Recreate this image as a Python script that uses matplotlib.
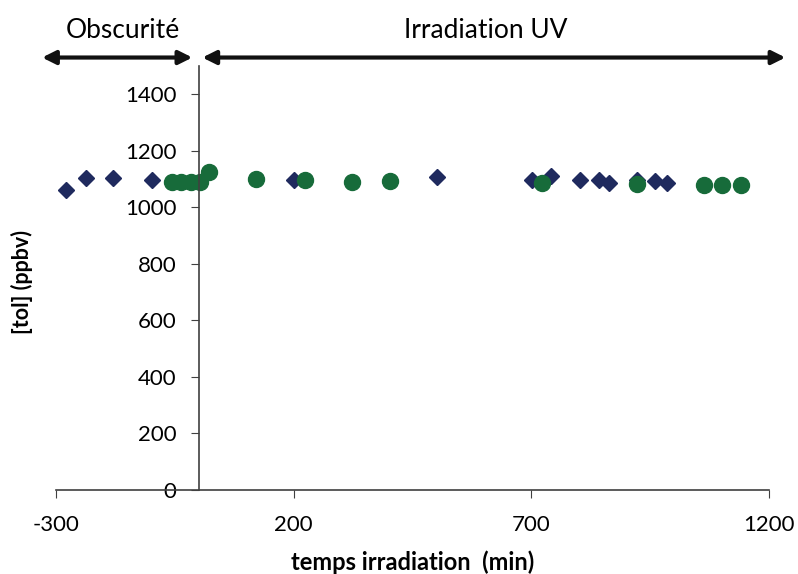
import matplotlib.pyplot as plt

plt.rcParams['font.family'] = ['Lato', 'DejaVu Sans']
plt.rcParams['axes.unicode_minus'] = False

# sombre + irradiation (losanges)
t_dia = [-278, -237, -179, -97, 0, 200, 501, 702, 742, 802, 841, 862, 922, 960, 984]
c_dia = [1060, 1105, 1105, 1098, 1090, 1098, 1106, 1096, 1112, 1096, 1097, 1086, 1095, 1092, 1086]

# cercles verts
t_circ = [-55, -36, -15, 4, 23, 121, 223, 322, 402, 722, 922, 1062, 1101, 1141]
c_circ = [1088, 1088, 1088, 1088, 1126, 1100, 1096, 1091, 1092, 1086, 1083, 1080, 1080, 1080]

xticks = [-300, 200, 700, 1200]
yticks = [0, 200, 400, 600, 800, 1000, 1200, 1400]

fig = plt.figure(figsize=(7.98, 5.74), dpi=100)
ax = fig.add_axes([0.070, 0.1463, 0.894, 0.7387])

ax.plot(t_dia, c_dia, 'D', color='#1f2a5e', markersize=8, linestyle='none')
ax.plot(t_circ, c_circ, 'o', color='#176b3a', markersize=11.5, linestyle='none')

ax.set_xlim(-300, 1200)
ax.set_ylim(0, 1500)
ax.set_xticks(xticks)
ax.set_yticks(yticks)
ax.tick_params(labelsize=16, length=6, color='#404040', direction='out')
ax.tick_params(axis='y', pad=10)
ax.tick_params(axis='x', pad=12)

ax.spines['left'].set_position(('data', 0))
ax.spines['top'].set_visible(False)
ax.spines['right'].set_visible(False)
for s in ['left', 'bottom']:
    ax.spines[s].set_color('#404040')
    ax.spines[s].set_linewidth(1.2)

ax.set_xlabel('temps irradiation  (min)', fontsize=17, fontweight='bold')
ax.xaxis.set_label_coords(0.5, -0.142)
ax.set_ylabel('[tol] (ppbv)', fontsize=15.5, fontweight='bold')
ax.yaxis.set_label_coords(-0.032, 0.49)

# fleches des periodes
arr = dict(arrowstyle='<|-|>', color='#111111', lw=3, mutation_scale=20, shrinkA=0, shrinkB=0)
ax.annotate('', xy=(-329, 1530), xytext=(-13, 1530), arrowprops=arr, annotation_clip=False)
ax.annotate('', xy=(8, 1530), xytext=(1234, 1530), arrowprops=arr, annotation_clip=False)
ax.text(-160, 1625, 'Obscurité', fontsize=19, ha='center', va='center', clip_on=False)
ax.text(603, 1625, 'Irradiation UV', fontsize=19, ha='center', va='center', clip_on=False)

fig.savefig('out.png', dpi=100)
